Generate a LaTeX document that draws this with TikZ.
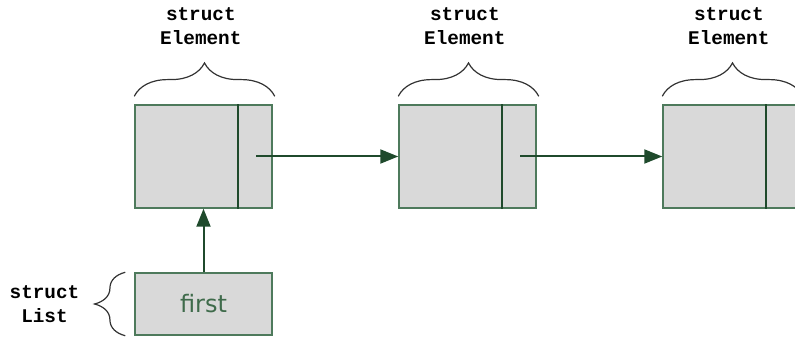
\documentclass[tikz,border=0pt]{standalone}
\usepackage{fontspec}
\setmonofont{Liberation Mono}
\newfontfamily\cellfont{DejaVu Sans}
\usetikzlibrary{arrows.meta,positioning,calc,decorations.pathreplacing}

\definecolor{cellfill}{HTML}{D9D9D9}
\definecolor{celledge}{HTML}{4E7A5C}
\definecolor{ptrgreen}{HTML}{1F4A2C}
\definecolor{txtgreen}{HTML}{3F6B4B}

\begin{document}
\begin{tikzpicture}[
    x=0.75pt, y=-0.75pt,
    node distance=94.15pt,
    % list element: data field and next field
    elem/.style={draw=celledge, fill=cellfill, line width=1.1pt,
        minimum width=102.75pt, minimum height=77.25pt, inner sep=0pt},
    % head of the list
    head/.style={draw=celledge, fill=cellfill, line width=1.1pt,
        minimum width=102.75pt, minimum height=46.5pt, inner sep=0pt,
        text=txtgreen, font=\cellfont\fontsize{18}{20}\selectfont},
    lbl/.style={font=\ttfamily\bfseries\fontsize{14.5}{18}\selectfont,
        align=center, inner sep=0pt},
    divider/.style={draw=ptrgreen, line width=2pt},
    ptr/.style={-{Triangle[length=13.5pt,width=10.5pt]}, color=ptrgreen, line width=1.5pt},
    brc/.style={decorate, decoration={brace, amplitude=#1}, draw=black!80, line width=0.9pt}
]
\clip (0,0) rectangle (795,338);

% --- elements ---
\node[elem] (e1) at (203.5,156.5) {};
\node[elem, right=of e1] (e2) {};
\node[elem, right=of e2] (e3) {};

% --- list head ---
\node[head, below=47.65pt of e1] (first) {first};

% --- dividers between data and next ---
\foreach \e in {e1,e2,e3}
    \draw[divider] ($(\e.north west)!0.75!(\e.north east)$) -- ($(\e.south west)!0.75!(\e.south east)$);

% --- next pointers ---
\foreach \a/\b in {e1/e2,e2/e3} {
    \coordinate (\a nxt) at ($(\a.west)!0.88!(\a.east)$);
    \draw[ptr] (\a nxt) -- (\b.west);
}
\draw[ptr] (first) -- (e1);

% --- braces and labels ---
\foreach \e in {e1,e2,e3} {
    \draw[brc=25pt] ($(\e.north west)+(0,-8)$) -- ($(\e.north east)+(2,-8)$);
    \node[lbl, above=44.25pt of \e, xshift=-2pt] (\e lbl) {struct\\Element};
}
\draw[brc=23pt] ($(first.south west)+(-9,0)$) -- ($(first.north west)+(-9,0)$);
\node[lbl] (listlbl) at (44.5,304) {struct\\List};
\end{tikzpicture}
\end{document}
